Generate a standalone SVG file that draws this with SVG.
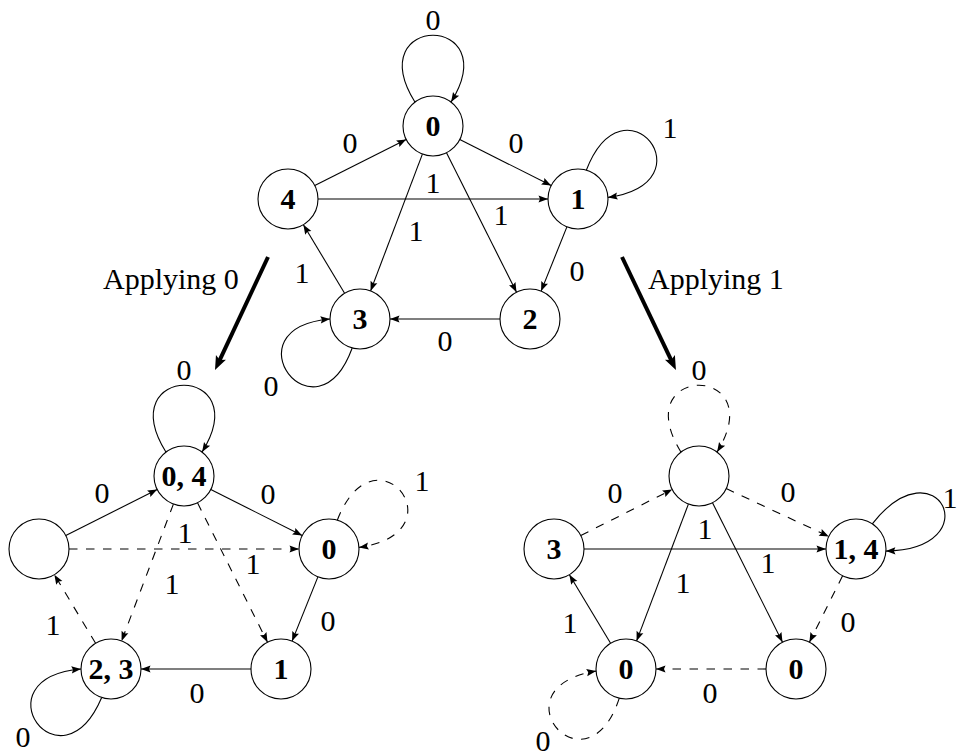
<svg xmlns="http://www.w3.org/2000/svg" width="959" height="756" viewBox="0 0 959 756">
<style>
.n circle{fill:#fff;stroke:#000;stroke-width:1.1}
.n text{font-family:"Liberation Serif","DejaVu Serif",serif;font-size:30px;font-weight:bold;text-anchor:middle;fill:#000}
.e path{fill:none;stroke:#000;stroke-width:1.1;marker-end:url(#ah)}
.e path.d{stroke-dasharray:8.5 8.5}
.lb text{font-family:"Liberation Serif","DejaVu Serif",serif;font-size:30px;text-anchor:middle;fill:#000}
.big path{fill:none;stroke:#000;stroke-width:4;marker-end:url(#bh)}
.cap{font-family:"Liberation Serif","DejaVu Serif",serif;font-size:30px;fill:#000}
</style>
<defs>
<marker id="ah" viewBox="-10 -5 12 10" markerWidth="12" markerHeight="10" refX="0" refY="0" orient="auto" markerUnits="userSpaceOnUse">
<path d="M0,0 L-9.5,-3.6 L-8,0 L-9.5,3.6 Z" fill="#000"/>
</marker>
<marker id="bh" viewBox="-7 -7 16 14" markerWidth="16" markerHeight="14" refX="0" refY="0" orient="auto" markerUnits="userSpaceOnUse">
<path d="M8,0 L-6,-5.5 L-3,0 L-6,5.5 Z" fill="#000"/>
</marker>
</defs>

<g id="connectors">
<g class="e">
<!-- top graph -->
<path d="M314.8,185.5 L406.2,139.5"/>
<path d="M459.8,139.5 L551.2,185.5"/>
<path d="M318,199 L548,199"/>
<path d="M422.4,154.1 L370.6,290.9"/>
<path d="M446.5,152.8 L516.5,292.2"/>
<path d="M566.9,226.9 L541.1,291.1"/>
<path d="M500,319 L390,319"/>
<path d="M344.6,293.3 L303.4,224.7"/>
<path d="M414.9,102 C360,13 506,13 451.1,102"/>
<path d="M586.3,170.2 C624,72.6 711.5,182.6 608,197.4"/>
<path d="M352.2,348 C316.2,446.2 225.8,328.4 330,319"/>
<!-- bottom-left graph -->
<path d="M65.8,535.5 L157.2,489.5"/>
<path d="M210.8,489.5 L302.2,535.5"/>
<path class="d" d="M69,549 L299,549"/>
<path class="d" d="M173.4,504.1 L121.6,640.9"/>
<path class="d" d="M197.5,502.8 L267.5,642.2"/>
<path d="M317.9,576.9 L292.1,641.1"/>
<path d="M251,669 L141,669"/>
<path class="d" d="M95.6,643.3 L54.4,574.7"/>
<path d="M165.9,452 C111,363 257,363 202.1,452"/>
<path class="d" d="M337.3,520.2 C375,422.6 462.5,532.6 359,547.4"/>
<path d="M101.7,697.5 C60.6,793.7 -23.2,678.4 81,669"/>
<!-- bottom-right graph -->
<path class="d" d="M580.8,535.5 L672.2,489.5"/>
<path class="d" d="M726.2,488.6 L828.8,536.4"/>
<path d="M584,549 L826,549"/>
<path d="M688.4,504.1 L636.6,640.9"/>
<path d="M712.5,502.8 L782.5,642.2"/>
<path class="d" d="M842.6,575.8 L809.4,642.2"/>
<path class="d" d="M766,669 L656,669"/>
<path d="M610.6,643.3 L569.4,574.7"/>
<path class="d" d="M680.9,452 C626,363 772,363 717.1,452"/>
<path d="M872.3,523.8 C936.9,441.6 990.5,549 885.9,551.1"/>
<path class="d" d="M619.3,698.2 C586.7,797.6 492.8,687.7 596.1,671.1"/>
</g>
<g class="big">
<path d="M268,257 L218.4,362.8"/>
<path d="M622,257 L672.5,362.8"/>
</g>
</g>

<g id="top-n0" class="n"><circle cx="433" cy="126" r="30"/><text x="433" y="136">0</text></g>
<g id="top-n1" class="n"><circle cx="578" cy="199" r="30"/><text x="578" y="209">1</text></g>
<g id="top-n2" class="n"><circle cx="530" cy="319" r="30"/><text x="530" y="329">2</text></g>
<g id="top-n3" class="n"><circle cx="360" cy="319" r="30"/><text x="360" y="329">3</text></g>
<g id="top-n4" class="n"><circle cx="288" cy="199" r="30"/><text x="288" y="209">4</text></g>

<g id="bl-n04" class="n"><circle cx="184" cy="476" r="30"/><text x="184" y="486">0, 4</text></g>
<g id="bl-empty" class="n"><circle cx="39" cy="549" r="30"/></g>
<g id="bl-n0" class="n"><circle cx="329" cy="549" r="30"/><text x="329" y="559">0</text></g>
<g id="bl-n23" class="n"><circle cx="111" cy="669" r="30"/><text x="111" y="679">2, 3</text></g>
<g id="bl-n1" class="n"><circle cx="281" cy="669" r="30"/><text x="281" y="679">1</text></g>

<g id="br-empty" class="n"><circle cx="699" cy="476" r="30"/></g>
<g id="br-n3" class="n"><circle cx="554" cy="549" r="30"/><text x="554" y="559">3</text></g>
<g id="br-n14" class="n"><circle cx="856" cy="549" r="30"/><text x="856" y="559">1, 4</text></g>
<g id="br-n0a" class="n"><circle cx="626" cy="669" r="30"/><text x="626" y="679">0</text></g>
<g id="br-n0b" class="n"><circle cx="796" cy="669" r="30"/><text x="796" y="679">0</text></g>

<g id="labels" class="lb">
<text x="433" y="30">0</text>
<text x="350" y="153">0</text>
<text x="516" y="153">0</text>
<text x="433" y="193">1</text>
<text x="416" y="241">1</text>
<text x="501" y="225">1</text>
<text x="577" y="281">0</text>
<text x="445" y="351">0</text>
<text x="302" y="283">1</text>
<text x="271" y="396">0</text>
<text x="670" y="138">1</text>

<text x="184" y="380">0</text>
<text x="102" y="503">0</text>
<text x="268" y="504">0</text>
<text x="422" y="491">1</text>
<text x="185" y="543">1</text>
<text x="172" y="594">1</text>
<text x="253" y="574">1</text>
<text x="328" y="631">0</text>
<text x="197" y="703">0</text>
<text x="53" y="635">1</text>
<text x="23" y="747">0</text>

<text x="699" y="380">0</text>
<text x="615" y="503">0</text>
<text x="788" y="502">0</text>
<text x="705" y="539">1</text>
<text x="683" y="593">1</text>
<text x="768" y="573">1</text>
<text x="950" y="508">1</text>
<text x="848" y="632">0</text>
<text x="710" y="703">0</text>
<text x="570" y="633">1</text>
<text x="543" y="751">0</text>
</g>

<text class="cap" x="103" y="289">Applying 0</text>
<text class="cap" x="648" y="289">Applying 1</text>
</svg>
